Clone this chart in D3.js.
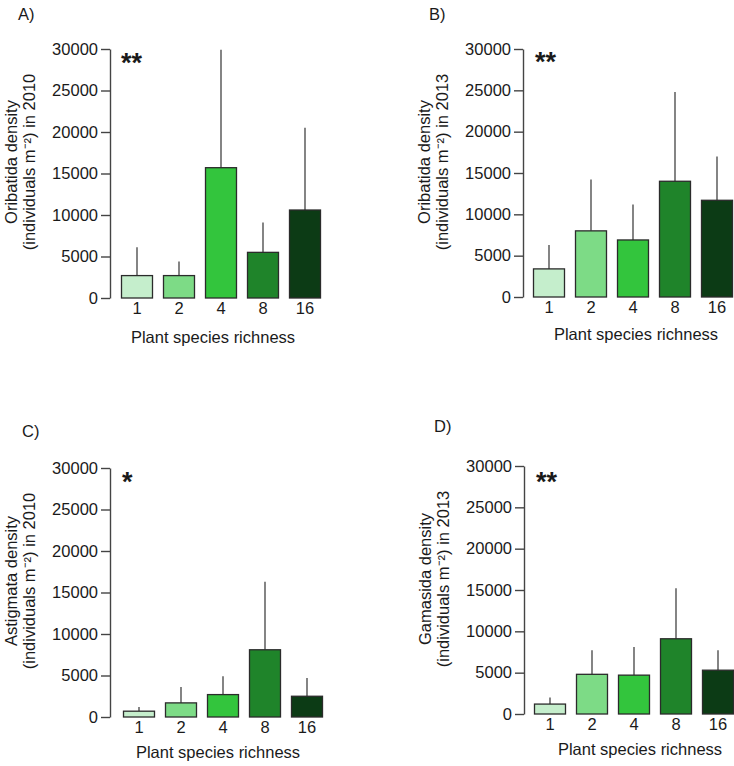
<!DOCTYPE html>
<html>
<head>
<meta charset="utf-8">
<script src="https://cdn.jsdelivr.net/npm/d3@7"></script>
<style>
  html, body { margin: 0; padding: 0; background: #fff; }
  svg { display: block; }
  text { font-family: "Liberation Sans", Arial, Helvetica, sans-serif; fill: #1a1a1a; }
</style>
</head>
<body>
<svg id="chart" width="734" height="766"></svg>
<script>
// ---- data ----
const categories = ["1", "2", "4", "8", "16"];
const yTicks = [0, 5000, 10000, 15000, 20000, 25000, 30000];
const barColors = ["#c5eecc", "#7ddb86", "#33c53d", "#1f842a", "#0c3b15"];

const meansA = [2700, 2700, 15700, 5500, 10600];
const upperA = [6100, 4400, 29900, 9100, 20500];
const meansB = [3400, 8000, 6900, 14000, 11700];
const upperB = [6300, 14200, 11200, 24800, 17000];
const meansC = [700, 1700, 2700, 8100, 2500];
const upperC = [1200, 3600, 4900, 16300, 4700];
const meansD = [1200, 4800, 4700, 9100, 5300];
const upperD = [2000, 7700, 8100, 15200, 7700];

const labelsPanel = ["A)", "B)", "C)", "D)"];
const signif = ["**", "**", "*", "**"];
const yTitle1 = ["Oribatida density", "Oribatida density", "Astigmata density", "Gamasida density"];
const yTitle2 = ["(individuals m\u207B\u00B2) in 2010", "(individuals m\u207B\u00B2) in 2013",
                 "(individuals m\u207B\u00B2) in 2010", "(individuals m\u207B\u00B2) in 2013"];
const xTitle = "Plant species richness";

const seriesMeans = [meansA, meansB, meansC, meansD];
const seriesUpper = [upperA, upperB, upperC, upperD];

// ---- layout ----
const layouts = [
  { axisX: 110, barStart: 121, yTop: 49,  yZero: 298, lab: [18, 20],   star: [121, 72], xt: [213, 343] },
  { axisX: 523, barStart: 533, yTop: 49,  yZero: 297, lab: [429, 20],  star: [535, 71], xt: [636, 340] },
  { axisX: 110, barStart: 123, yTop: 468, yZero: 717, lab: [22, 437],  star: [122, 491], xt: [218, 758] },
  { axisX: 524, barStart: 534, yTop: 466, yZero: 714, lab: [434, 432], star: [536, 491], xt: [640, 755] }
];

const svg = d3.select("#chart");
const FS = 16.5;

layouts.forEach((L, i) => {
  const g = svg.append("g");
  const y = d3.scaleLinear().domain([0, 30000]).range([L.yZero, L.yTop]);
  const x = d3.scaleBand().domain(categories)
    .range([L.barStart, L.barStart + 200]).paddingInner(10 / 42).paddingOuter(0);

  // y axis
  const ax = g.append("g").attr("transform", `translate(${L.axisX},0)`)
    .call(d3.axisLeft(y).tickValues(yTicks).tickFormat(d3.format("d"))
      .tickSize(9).tickSizeOuter(0).tickPadding(3));
  ax.select(".domain").attr("stroke", "#444").attr("stroke-width", 1.4);
  ax.selectAll(".tick line").attr("stroke", "#444").attr("stroke-width", 1.4);
  ax.selectAll(".tick text").style("font-size", FS + "px").attr("fill", "#1a1a1a")
    .style("font-family", "'Liberation Sans', Arial, sans-serif");

  const means = seriesMeans[i], upper = seriesUpper[i];
  const data = categories.map((c, k) => ({ c, m: means[k], u: upper[k], col: barColors[k] }));

  // error bars (upper only)
  g.selectAll("line.err").data(data).enter().append("line")
    .attr("x1", d => x(d.c) + x.bandwidth() / 2)
    .attr("x2", d => x(d.c) + x.bandwidth() / 2)
    .attr("y1", d => y(d.m))
    .attr("y2", d => y(d.u))
    .attr("stroke", "#333").attr("stroke-width", 1.2);

  // bars
  g.selectAll("rect.bar").data(data).enter().append("rect")
    .attr("x", d => x(d.c) + 0.5)
    .attr("width", x.bandwidth() - 1)
    .attr("y", d => y(d.m))
    .attr("height", d => y(0) - y(d.m))
    .attr("fill", d => d.col)
    .attr("stroke", "#2b2b2b").attr("stroke-width", 1.3);

  // x tick labels
  g.selectAll("text.xl").data(data).enter().append("text")
    .attr("x", d => x(d.c) + x.bandwidth() / 2)
    .attr("y", L.yZero + 15.5)
    .attr("text-anchor", "middle")
    .style("font-size", FS + "px")
    .text(d => d.c);

  // x title
  g.append("text").attr("x", L.xt[0]).attr("y", L.xt[1])
    .attr("text-anchor", "middle").style("font-size", FS + "px").text(xTitle);

  // y title (two lines)
  const cy = L.yTop + 113;
  g.append("text")
    .attr("transform", `translate(${L.axisX - 93},${cy}) rotate(-90)`)
    .attr("text-anchor", "middle").style("font-size", FS + "px").text(yTitle1[i]);
  g.append("text")
    .attr("transform", `translate(${L.axisX - 75},${cy}) rotate(-90)`)
    .attr("text-anchor", "middle").style("font-size", FS + "px").text(yTitle2[i]);

  // panel label
  g.append("text").attr("x", L.lab[0]).attr("y", L.lab[1])
    .style("font-size", FS + "px").text(labelsPanel[i]);

  // significance stars
  g.append("text").attr("x", L.star[0]).attr("y", L.star[1])
    .style("font-size", "27px").style("font-weight", "bold").text(signif[i]);
});
</script>
</body>
</html>
